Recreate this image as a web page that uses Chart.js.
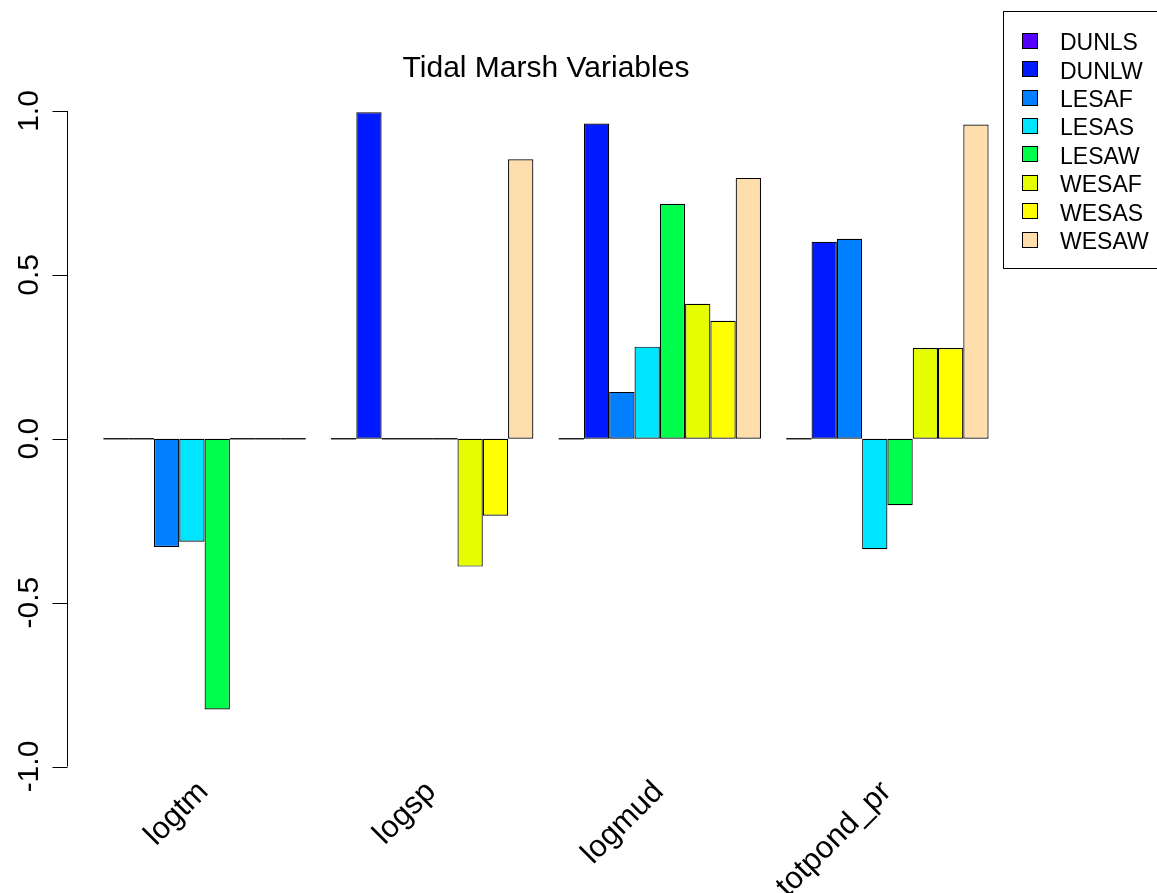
<!DOCTYPE html>
<html>
<head>
<meta charset="utf-8">
<title>Tidal Marsh Variables</title>
<script src="https://cdn.jsdelivr.net/npm/chart.js@4.4.1/dist/chart.umd.min.js"></script>
<style>
    html, body { margin: 0; padding: 0; background: #fff; }
    canvas { display: block; }
</style>
</head>
<body>
<canvas id="myChart" width="1157" height="893"></canvas>
<script>
// groups along the x axis
let categories = ["logtm", "logsp", "logmud", "totpond_pr"];

// one array per series, one value per group
let dunls = [0, 0, 0, 0];
let dunlw = [0, 0.996, 0.962, 0.601];
let lesaf = [-0.330, 0, 0.143, 0.610];
let lesas = [-0.314, 0, 0.281, -0.337];
let lesaw = [-0.826, 0, 0.717, -0.203];
let wesaf = [0, -0.390, 0.412, 0.277];
let wesas = [0, -0.235, 0.360, 0.277];
let wesaw = [0, 0.853, 0.796, 0.959];

let seriesNames = ["DUNLS", "DUNLW", "LESAF", "LESAS", "LESAW", "WESAF", "WESAS", "WESAW"];
let seriesValues = [dunls, dunlw, lesaf, lesas, lesaw, wesaf, wesas, wesaw];
let seriesColors = ["#5500FF", "#0019FF", "#0080FF", "#00E5FF", "#00FF4D", "#E5FF00", "#FFFF00", "#FFDEAD"];

let yTicks = [-1, -0.5, 0, 0.5, 1];
let yTickLabels = ["-1.0", "-0.5", "0.0", "0.5", "1.0"];

const fontName = "'Liberation Sans', Arial, sans-serif";

let datasets = seriesNames.map((name, i) => ({
    label: name,
    data: seriesValues[i].map((v, j) => ({ x: j, y: v })),
    backgroundColor: seriesColors[i],
    borderColor: "#000",
    borderWidth: 1.2,
    borderSkipped: false,
    categoryPercentage: 8 / 9,
    barPercentage: 1
}));

// bars of height 0 are drawn by R as a flat line on the zero level
const zeroLines = {
    id: "zeroLines",
    afterDatasetsDraw(chart) {
        let ctx = chart.ctx;
        ctx.save();
        ctx.strokeStyle = "#000";
        ctx.lineWidth = 1.3;
        chart.data.datasets.forEach((ds, i) => {
            let meta = chart.getDatasetMeta(i);
            meta.data.forEach((bar, j) => {
                if (ds.data[j].y !== 0) return;
                let p = bar.getProps(["x", "y", "width"], true);
                ctx.beginPath();
                ctx.moveTo(p.x - p.width / 2, p.y);
                ctx.lineTo(p.x + p.width / 2, p.y);
                ctx.stroke();
            });
        });
        ctx.restore();
    }
};

// R style y axis: line from first to last tick, labels turned upright
const rAxis = {
    id: "rAxis",
    afterDraw(chart) {
        let ctx = chart.ctx;
        let y = chart.scales.y;
        let left = Math.round(chart.chartArea.left) - 0.5;
        ctx.save();
        ctx.strokeStyle = "#000";
        ctx.lineWidth = 1;
        ctx.beginPath();
        ctx.moveTo(left, y.getPixelForValue(yTicks[0]));
        ctx.lineTo(left, y.getPixelForValue(yTicks[yTicks.length - 1]));
        yTicks.forEach(t => {
            let py = Math.round(y.getPixelForValue(t)) + 0.5;
            ctx.moveTo(left - 15, py);
            ctx.lineTo(left, py);
        });
        ctx.stroke();

        ctx.fillStyle = "#000";
        ctx.font = "30px " + fontName;
        ctx.textAlign = "center";
        ctx.textBaseline = "alphabetic";
        yTicks.forEach((t, i) => {
            ctx.save();
            ctx.translate(left - 30, y.getPixelForValue(t));
            ctx.rotate(-Math.PI / 2);
            ctx.fillText(yTickLabels[i], 0, 0);
            ctx.restore();
        });
        ctx.restore();
    }
};

const boxLegend = {
    id: "boxLegend",
    afterDraw(chart) {
        let ctx = chart.ctx;
        ctx.save();
        ctx.strokeStyle = "#000";
        ctx.lineWidth = 1;
        ctx.fillStyle = "#fff";
        ctx.fillRect(1003.5, 11.5, 200, 257);
        ctx.strokeRect(1003.5, 11.5, 200, 257);
        ctx.font = "23px " + fontName;
        ctx.textAlign = "left";
        ctx.textBaseline = "alphabetic";
        chart.data.datasets.forEach((ds, i) => {
            let cy = 40.3 + i * 28.4;
            ctx.fillStyle = ds.backgroundColor;
            ctx.fillRect(1022.5, Math.round(cy - 7.5) + 0.5, 15, 15);
            ctx.strokeRect(1022.5, Math.round(cy - 7.5) + 0.5, 15, 15);
            ctx.fillStyle = "#000";
            ctx.fillText(ds.label, 1060, cy + 9.9);
        });
        ctx.restore();
    }
};

new Chart("myChart", {
    type: "bar",
    data: { datasets: datasets },
    options: {
        responsive: false,
        animation: false,
        layout: { padding: { left: 68, right: 133, top: 0, bottom: 0 } },
        scales: {
            x: {
                type: "linear",
                offset: false,
                min: -0.6,
                max: 3.6,
                afterBuildTicks: scale => {
                    scale.ticks = categories.map((c, i) => ({ value: i }));
                },
                afterFit: scale => { scale.height = 123.2; },
                grid: { display: false, drawTicks: false, offset: false },
                border: { display: false },
                ticks: {
                    autoSkip: false,
                    minRotation: 45,
                    maxRotation: 45,
                    padding: 4,
                    labelOffset: -1,
                    color: "#000",
                    font: { family: fontName, size: 31 },
                    callback: value => categories[value]
                }
            },
            y: {
                display: false,
                min: -1.01,
                max: 1.08
            }
        },
        plugins: {
            legend: { display: false },
            tooltip: { enabled: false },
            title: {
                display: true,
                text: "Tidal Marsh Variables",
                color: "#000",
                font: { family: fontName, size: 30, weight: "normal", lineHeight: 1 },
                padding: { top: 54, bottom: 0.8 }
            }
        }
    },
    plugins: [zeroLines, rAxis, boxLegend]
});
</script>
</body>
</html>
